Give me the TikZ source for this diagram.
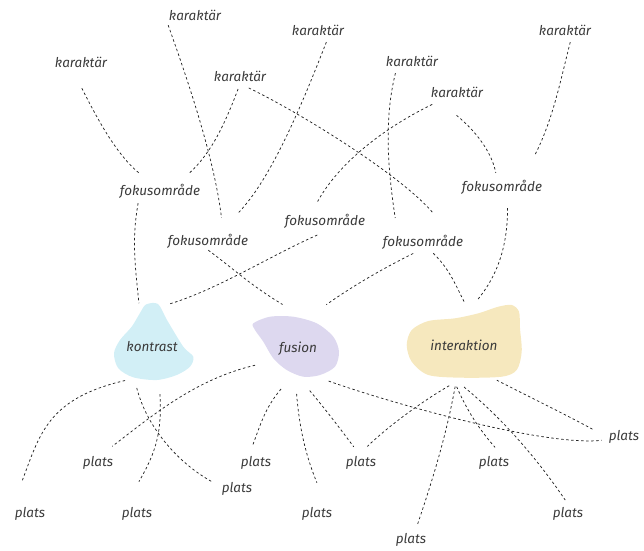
\documentclass[tikz,border=0pt]{standalone}
\usepackage{fontspec}
\setmainfont{Fira Sans}
\usetikzlibrary{shapes.geometric}
\definecolor{txt}{HTML}{3A3A3A}
\definecolor{ln}{HTML}{262626}
\definecolor{konfill}{HTML}{D2EFF6}
\definecolor{fusfill}{HTML}{DDD8EF}
\definecolor{intfill}{HTML}{F6E8BE}
\begin{document}
\begin{tikzpicture}[x=1pt, y=1pt,
  every node/.style={font=\fontsize{13.5}{15}\selectfont\itshape, text=txt, inner sep=2pt, text height=9pt, text depth=3pt},
  blob/.style={ellipse, outer sep=0pt, text height=12pt, text depth=1pt},
  link/.style={draw=ln, line width=0.75pt, dash pattern=on 2.5pt off 2.5pt}]
  \useasboundingbox (0,0) rectangle (644,-550);
  \fill[konfill] plot[smooth cycle] coordinates {(146,-304.5) (158,-304) (167,-320) (183.3,-346.7) (193.3,-356.7) (190,-366.7) (176.7,-375) (156.7,-380) (133.3,-377.3) (118.3,-368.3) (114,-353.3) (120,-340) (131.7,-326.7) (140,-313)};
  \fill[fusfill] plot[smooth cycle] coordinates {(253.3,-323.3) (270,-316.7) (293.3,-316.7) (316.7,-323.3) (333.3,-336.7) (339,-351.7) (335,-366.7) (320,-375) (303.3,-376.7) (286.7,-370) (273.3,-358.3) (263.3,-341.7) (255,-330)};
  \fill[intfill] plot[smooth cycle] coordinates {(406.7,-345) (411.7,-330) (428.3,-321) (455,-318.3) (478.3,-313.3) (498.3,-306.7) (511.7,-305) (519,-311.7) (520,-328.3) (521.7,-351.7) (516.7,-370) (501.7,-376.7) (461.7,-377.7) (428.3,-375) (411.7,-361.7)};

  \node (k1) at (195,-17) {karaktär};
  \node (k2) at (81,-64) {karaktär};
  \node (k3) at (240,-78) {karaktär};
  \node (k4) at (318,-32) {karaktär};
  \node (k5) at (412,-63) {karaktär};
  \node (k6) at (457,-94) {karaktär};
  \node (k7) at (565,-32) {karaktär};
  \node (f1) at (160,-192) {fokusområde};
  \node (f2) at (208,-242) {fokusområde};
  \node (f3) at (325,-222) {fokusområde};
  \node (f4) at (423,-243) {fokusområde};
  \node (f5) at (502,-188) {fokusområde};
  \node (kontrast) [blob, minimum width=84pt, minimum height=90pt] at (152,-346) {kontrast};
  \node (fusion) [blob, minimum width=94pt, minimum height=90pt] at (298,-347) {fusion};
  \node (interaktion) [blob, minimum width=120pt, minimum height=84pt] at (464,-345) {interaktion};
  \node (p1) at (30,-514) {plats};
  \node (p2) at (98,-463) {plats};
  \node (p3) at (137,-514) {plats};
  \node (p4) at (237,-489) {plats};
  \node (p5) at (256,-463) {plats};
  \node (p6) at (317,-514) {plats};
  \node (p7) at (361,-463) {plats};
  \node (p8) at (411,-540) {plats};
  \node (p9) at (494,-463) {plats};
  \node (p10) at (568,-514) {plats};
  \node (p11) at (624,-437) {plats};

  \draw[link, shorten <=18pt, shorten >=17pt] (k2.-132) .. controls +(22,-43) and +(-37,30) .. (f1.133);
  \draw[link, shorten <=3pt, shorten >=16pt] (k3.-96) .. controls +(-14,-37) and +(34,31) .. (f1.25);
  \draw[link, shorten >=16pt] (k1.-163) .. controls +(20,-56) and +(-9,75) .. (f2.28);
  \draw[link, shorten <=2pt, shorten >=29pt] (k4.-42) .. controls +(-22,-56) and +(55,57) .. (f2.39);
  \draw[link, shorten <=4pt, shorten >=29pt] (k3.-58) .. controls +(54,-26) and +(-51,60) .. (f4.16);
  \draw[link, shorten <=2pt, shorten >=17pt] (k5.-153) .. controls +(-12,-48) and +(-10,66) .. (f4.162);
  \draw[link, shorten <=5pt, shorten >=14pt] (k6.-158) .. controls +(-45,-22) and +(31,56) .. (f3.150);
  \draw[link, shorten <=21pt, shorten >=7pt] (k6.-154) .. controls +(36,-29) and +(-5,27) .. (f5.121);
  \draw[link, shorten <=2pt, shorten >=28pt] (k7.-55) .. controls +(-10,-39) and +(31,61) .. (f5.22);

  \draw[link, shorten <=3pt] (f1.-159) .. controls +(-7,-40) and +(-4,40) .. (kontrast.107);
  \draw[link, shorten <=12pt] (f3.-68) .. controls +(-57,-25) and +(48,14) .. (kontrast.69);
  \draw[link] (f2.-88) .. controls +(32,-24) and +(-34,21) .. (fusion.110);
  \draw[link, shorten <=5pt, shorten >=6pt] (f4.-123) .. controls +(-36,-18) and +(33,23) .. (fusion.59);
  \draw[link, shorten <=3pt] (f4.-45) .. controls +(18,-18) and +(-11,22) .. (interaktion.89);
  \draw[link, shorten <=12pt, shorten >=4pt] (f5.-56) .. controls +(0,-47) and +(25,30) .. (interaktion.76);

  \draw[link, shorten >=26pt] (kontrast.-128) .. controls +(-78,-18) and +(27,71) .. (p1.155);
  \draw[link, shorten <=4pt, shorten >=28pt] (kontrast.-80) .. controls +(2,-41) and +(32,55) .. (p3.146);
  \draw[link, shorten >=8pt] (kontrast.-110) .. controls +(10,-39) and +(-42,23) .. (p4.170);
  \draw[link, shorten >=14pt] (fusion.-157) .. controls +(-60,-14) and +(51,39) .. (p2.69);
  \draw[link, shorten >=9pt] (fusion.-112) .. controls +(-16,-19) and +(12,32) .. (p5.130);
  \draw[link, shorten <=2pt, shorten >=25pt] (fusion.-92) .. controls +(3,-36) and +(-21,51) .. (p6.41);
  \draw[link, shorten >=10pt] (fusion.-75) .. controls +(16,-19) and +(-21,28) .. (p7.99);
  \draw[link, shorten >=5pt] (fusion.-48) .. controls +(56,-20) and +(-64,-7) .. (p11.-171);
  \draw[link, shorten >=12pt] (interaktion.-110) .. controls +(-26,-15) and +(30,29) .. (p7.106);
  \draw[link, shorten >=6pt] (interaktion.-102) .. controls +(-9,-49) and +(18,53) .. (p8.64);
  \draw[link, shorten >=10pt] (interaktion.-100) .. controls +(10,-23) and +(-23,26) .. (p9.47);
  \draw[link, shorten >=7pt] (interaktion.-90) .. controls +(39,-32) and +(-32,47) .. (p10.82);
  \draw[link, shorten >=14pt] (interaktion.-47) .. controls +(27,-14) and +(-38,21) .. (p11.180);
\end{tikzpicture}
\end{document}
